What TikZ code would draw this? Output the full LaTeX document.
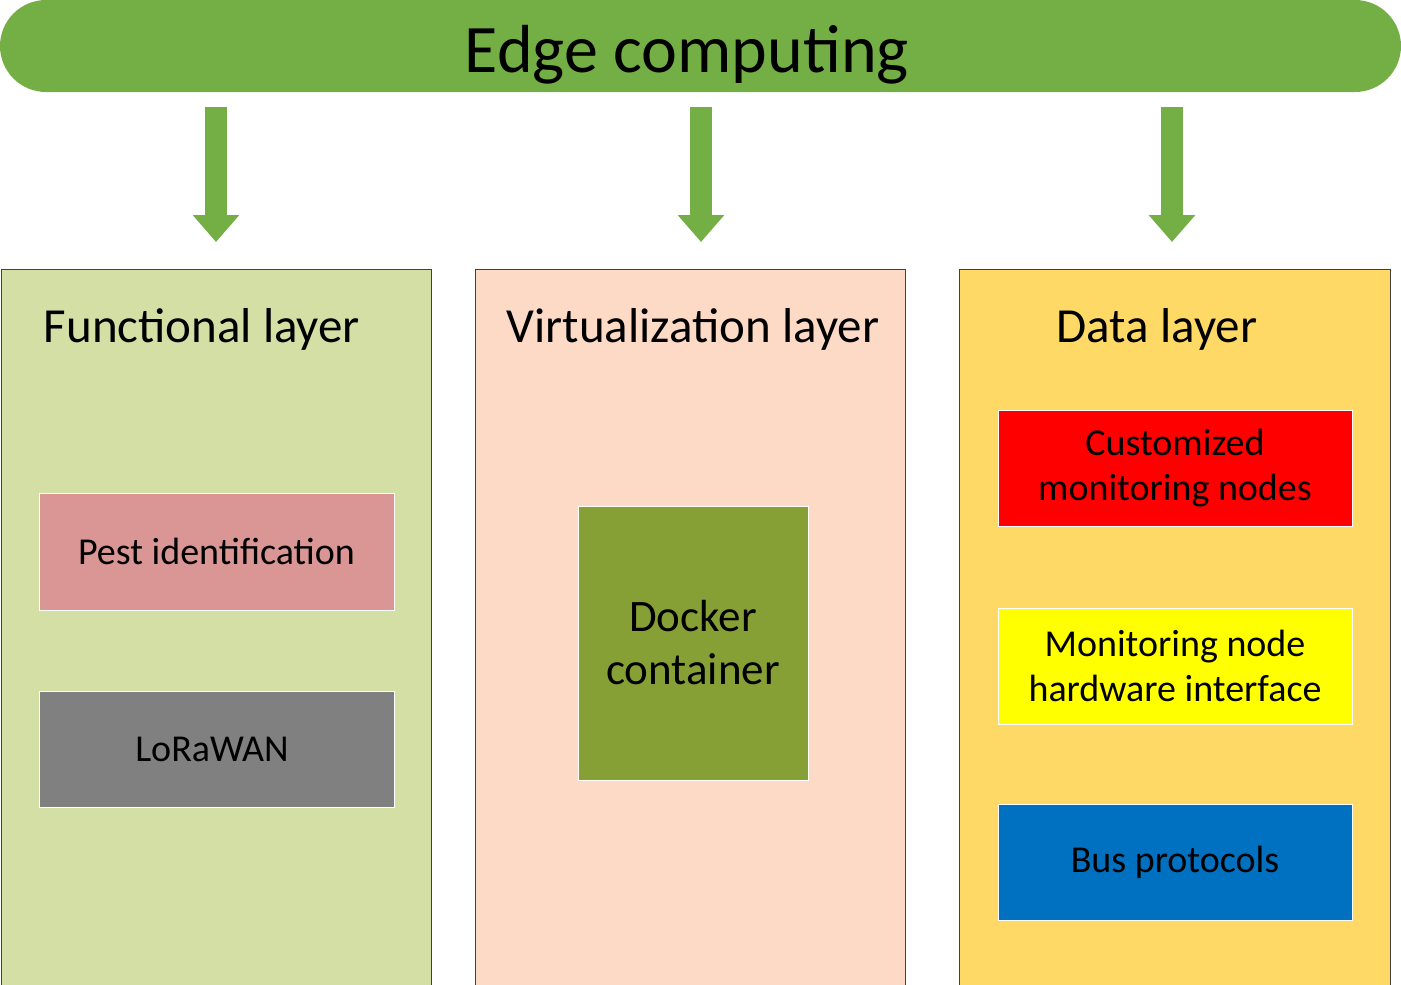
\documentclass[tikz,border=0pt]{standalone}
\usepackage{fontspec}
\setmainfont{Carlito}
\usetikzlibrary{arrows.meta}
\definecolor{topgreen}{HTML}{74AF45}
\definecolor{funcbg}{HTML}{D4DFA5}
\definecolor{virtbg}{HTML}{FDDAC6}
\definecolor{databg}{HTML}{FFD966}
\definecolor{pestc}{HTML}{D99694}
\definecolor{lorac}{HTML}{808080}
\definecolor{dockc}{HTML}{87A036}
\definecolor{custc}{HTML}{FF0000}
\definecolor{monic}{HTML}{FFFF00}
\definecolor{busc}{HTML}{0070C0}
\definecolor{edgegray}{HTML}{404040}
\tikzset{
  layerbox/.style={draw=edgegray, line width=1pt},
  innerbox/.style={draw=white, line width=1pt, inner sep=0pt, align=center, font=\fontsize{38}{45}\selectfont},
  layertitle/.style={font=\fontsize{49}{56}\selectfont, anchor=base},
  downarrow/.style={topgreen, line width=22pt, -{Triangle[width=45pt,length=27pt]}}
}
\begin{document}
\begin{tikzpicture}[x=1pt,y=-1pt]
\useasboundingbox (0,0) rectangle (1401,985);
% top bar
\fill[topgreen, rounded corners=46pt] (0,0) rectangle (1401,92);
\node[font=\fontsize{68}{76}\selectfont, anchor=base] (edge) at (687,72) {Edge computing};
% layers
\draw[layerbox, fill=funcbg] (1,269) rectangle (431,985);
\draw[layerbox, fill=virtbg] (475,269) rectangle (905,985);
\draw[layerbox, fill=databg] (959,269) rectangle (1390,985);
\node[layertitle] (func) at (202,342) {Functional layer};
\node[layertitle] (virt) at (693,342) {Virtualization layer};
\node[layertitle] (data) at (1157,342) {Data layer};
% arrows
\coordinate (a1s) at (216,107); \coordinate (a1e) at (216,242);
\coordinate (a2s) at (701,107); \coordinate (a2e) at (701,242);
\coordinate (a3s) at (1172,107); \coordinate (a3e) at (1172,242);
\draw[downarrow] (a1s) -- (a1e);
\draw[downarrow] (a2s) -- (a2e);
\draw[downarrow] (a3s) -- (a3e);
% inner boxes
\node[innerbox, fill=pestc, minimum width=355pt, minimum height=117pt] (pest) at (216.5,551.5) {Pest identification};
\node[innerbox, fill=lorac, minimum width=355pt, minimum height=116pt] (lora) at (216.5,749) {};
\node[anchor=center, font=\fontsize{38}{45}\selectfont, inner sep=0pt] (loratext) at (212,749) {LoRaWAN};
\node[innerbox, fill=dockc, minimum width=230pt, minimum height=274pt, font=\fontsize{45}{53}\selectfont] (dock) at (693,643) {Docker\\container};
\node[innerbox, fill=custc, minimum width=354pt, minimum height=116pt] (cust) at (1175,468) {Customized\\monitoring nodes};
\node[innerbox, fill=monic, minimum width=354pt, minimum height=116pt] (moni) at (1175,666) {Monitoring node\\hardware interface};
\node[innerbox, fill=busc, minimum width=354pt, minimum height=116pt] (bus) at (1175,862) {Bus protocols};
\end{tikzpicture}
\end{document}
